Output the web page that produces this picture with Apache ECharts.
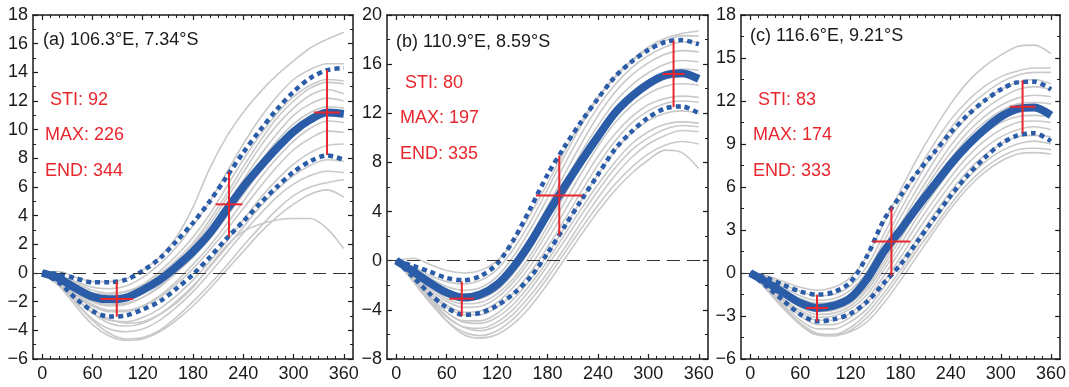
<!DOCTYPE html>
<html><head><meta charset="utf-8">
<script src="https://cdn.jsdelivr.net/npm/echarts@6/dist/echarts.min.js"></script>
<style>html,body{margin:0;padding:0;background:#fff}#c{width:1069px;height:387px}</style>
</head><body><div id="c"></div>
<script>
// ---------- data ----------
const days = [0,20,40,60,80,100,120,140,160,180,200,220,240,260,280,300,320,340,360];
const xTickLabels = [0,60,120,180,240,300,360];
const xMinorTicks = [0,10,20,30,40,50,60,70,80,90,100,110,120,130,140,150,160,170,180,190,200,210,220,230,240,250,260,270,280,290,300,310,320,330,340,350,360];

const panelTitles = ['(a) 106.3°E, 7.34°S','(b) 110.9°E, 8.59°S','(c) 116.6°E, 9.21°S'];
const stiValues = [92, 80, 83];
const maxValues = [226, 197, 174];
const endValues = [344, 335, 333];

const yMins = [-6, -8, -6];
const yMaxs = [18, 20, 18];
const ySteps = [2, 4, 3];

const meanA  = [0,-0.37,-1.07,-1.65,-1.84,-1.72,-1.19,-0.49,0.44,1.49,2.77,4.4,6.0,7.4,8.7,9.86,10.7,11.2,11.1];
const upperA = [0,-0.07,-0.37,-0.65,-0.64,-0.47,0.16,1.0,2.2,3.5,5.0,6.7,8.4,9.95,11.4,12.65,13.6,14.15,14.3];
const lowerA = [0,-0.67,-1.77,-2.65,-3.04,-2.97,-2.54,-1.99,-1.1,-0.1,1.1,2.4,3.6,4.85,6.0,7.05,7.8,8.2,7.9];

const meanB  = [0,-0.87,-1.8,-2.6,-3.0,-2.75,-1.95,-0.46,1.5,3.8,6.0,8.1,10.1,12.0,13.36,14.4,15.1,15.26,14.8];
const upperB = [0,-0.42,-0.9,-1.4,-1.6,-1.25,-0.25,1.74,4.3,7.0,9.25,11.3,13.2,14.95,16.2,17.15,17.8,17.96,17.6];
const lowerB = [0,-1.32,-2.7,-3.8,-4.4,-4.25,-3.65,-2.66,-1.3,0.6,2.75,4.9,7.0,9.05,10.5,11.65,12.4,12.56,12.0];

const meanC  = [0,-0.65,-1.39,-2.09,-2.44,-2.28,-1.74,-0.4,1.5,3.0,4.6,6.1,7.6,8.9,10.0,10.9,11.45,11.55,11.0];
const upperC = [0,-0.35,-0.84,-1.29,-1.51,-1.33,-0.64,1.2,3.7,5.4,7.0,8.4,9.8,11.0,12.0,12.8,13.3,13.35,12.8];
const lowerC = [0,-0.95,-1.94,-2.89,-3.37,-3.23,-2.84,-2.0,-0.7,0.6,2.2,3.8,5.4,6.8,8.0,9.0,9.6,9.75,9.2];

const grayA = [
 [0,0.1,-0.3,-0.6,-0.6,-0.4,0.2,1.1,2.5,4.6,7.3,9.5,11.2,12.6,13.8,14.8,15.7,16.3,16.8],
 [0,-0.2,-0.6,-1.0,-1.1,-0.9,-0.3,0.6,1.8,3.3,5.0,7.0,9.0,10.8,12.3,13.5,14.2,14.6,14.6],
 [0,-0.3,-0.9,-1.4,-1.5,-1.3,-0.8,0.1,1.2,2.5,4.1,6.0,7.9,9.6,11.1,12.3,13.1,13.5,13.4],
 [0,-0.2,-0.7,-1.2,-1.4,-1.3,-0.9,-0.1,0.9,2.1,3.7,5.5,7.4,9.2,10.8,12.0,12.9,13.3,13.2],
 [0,-0.4,-1.1,-1.7,-1.9,-1.8,-1.3,-0.5,0.6,1.9,3.4,5.2,7.0,8.8,10.3,11.5,12.4,12.8,12.5],
 [0,-0.3,-1.0,-1.6,-1.8,-1.7,-1.3,-0.6,0.4,1.6,3.0,4.7,6.5,8.2,9.7,11.0,11.8,12.2,12.0],
 [0,-0.5,-1.3,-2.0,-2.3,-2.2,-1.7,-0.9,0.1,1.3,2.7,4.3,6.0,7.7,9.2,10.4,11.2,11.6,11.5],
 [0,-0.4,-1.2,-1.9,-2.2,-2.1,-1.7,-1.0,0.0,1.1,2.4,3.9,5.5,7.1,8.6,9.8,10.6,11.0,11.0],
 [0,-0.6,-1.5,-2.3,-2.7,-2.7,-2.3,-1.6,-0.6,0.6,1.9,3.4,5.0,6.6,8.0,9.2,10.1,10.6,10.5],
 [0,-0.5,-1.4,-2.2,-2.6,-2.6,-2.3,-1.7,-0.8,0.3,1.6,3.0,4.5,6.0,7.4,8.6,9.4,9.9,9.8],
 [0,-0.7,-1.8,-2.8,-3.3,-3.4,-3.1,-2.5,-1.6,-0.5,0.8,2.2,3.7,5.2,6.5,7.6,8.4,8.9,9.0],
 [0,-0.6,-1.7,-2.8,-3.5,-3.7,-3.5,-2.9,-2.0,-0.9,0.4,1.8,3.2,4.6,5.8,6.8,7.5,7.9,7.8],
 [0,-0.8,-2.1,-3.2,-3.9,-4.1,-3.9,-3.3,-2.4,-1.3,0.0,1.4,2.8,4.1,5.3,6.2,6.8,7.1,7.0],
 [0,-0.7,-2.0,-3.3,-4.2,-4.6,-4.5,-4.0,-3.1,-2.0,-0.8,0.5,1.9,3.2,4.4,5.4,6.0,6.3,6.5],
 [0,-0.9,-2.3,-3.6,-4.4,-4.7,-4.6,-4.1,-3.3,-2.3,-1.1,0.2,1.5,2.8,3.9,4.8,5.5,5.8,5.3],
 [0,-0.5,-1.5,-2.5,-3.2,-3.5,-3.4,-2.9,-2.1,-1.0,0.5,1.9,2.9,3.4,3.7,3.8,3.8,3.1,1.7]
];
const grayB = [
 [0,0.2,-0.3,-0.8,-1.0,-0.8,0.0,1.6,3.8,6.3,8.9,11.3,13.3,15.0,16.3,17.4,18.1,18.5,18.7],
 [0,-0.5,-1.2,-1.7,-1.9,-1.6,-0.7,1.0,3.2,5.8,8.5,11.0,13.2,14.9,16.2,17.2,17.9,18.3,18.3],
 [0,-0.6,-1.4,-2.1,-2.4,-2.2,-1.3,0.4,2.6,5.1,7.8,10.3,12.5,14.3,15.7,16.7,17.4,17.8,17.8],
 [0,-0.8,-1.7,-2.5,-2.9,-2.7,-1.8,-0.2,1.9,4.4,7.0,9.5,11.8,13.7,15.1,16.1,16.8,17.1,17.0],
 [0,-0.7,-1.6,-2.4,-2.8,-2.7,-2.0,-0.6,1.4,3.8,6.3,8.8,11.0,12.9,14.3,15.3,16.0,16.3,16.2],
 [0,-0.9,-1.9,-2.8,-3.2,-3.1,-2.4,-1.0,1.0,3.4,5.9,8.3,10.5,12.3,13.7,14.7,15.3,15.6,15.5],
 [0,-1.0,-2.1,-3.1,-3.5,-3.4,-2.7,-1.4,0.5,2.8,5.3,7.7,9.9,11.8,13.2,14.2,14.8,15.0,14.9],
 [0,-1.1,-2.3,-3.3,-3.8,-3.7,-3.0,-1.7,0.1,2.3,4.7,7.1,9.3,11.2,12.6,13.6,14.2,14.4,14.3],
 [0,-1.2,-2.5,-3.6,-4.2,-4.1,-3.4,-2.1,-0.4,1.7,4.0,6.3,8.5,10.3,11.7,12.7,13.2,13.4,13.3],
 [0,-1.3,-2.7,-3.8,-4.4,-4.4,-3.8,-2.6,-0.9,1.1,3.3,5.6,7.8,9.7,11.2,12.2,12.8,13.0,12.9],
 [0,-1.5,-3.0,-4.2,-4.9,-4.9,-4.3,-3.1,-1.5,0.5,2.7,4.9,7.0,8.9,10.4,11.4,12.0,12.2,12.0],
 [0,-1.4,-2.9,-4.2,-5.0,-5.1,-4.6,-3.5,-1.9,0.0,2.1,4.2,6.2,8.0,9.5,10.5,11.1,11.3,11.2],
 [0,-1.6,-3.2,-4.6,-5.4,-5.5,-5.0,-3.9,-2.3,-0.4,1.6,3.7,5.7,7.5,9.0,10.0,10.7,11.0,10.9],
 [0,-1.5,-3.1,-4.5,-5.4,-5.7,-5.3,-4.3,-2.8,-1.0,1.0,3.1,5.1,6.9,8.4,9.5,10.2,10.6,10.5],
 [0,-1.7,-3.4,-4.9,-5.8,-6.1,-5.7,-4.7,-3.2,-1.4,0.6,2.6,4.5,6.2,7.6,8.7,9.4,9.7,9.5],
 [0,-1.6,-3.3,-4.9,-6.0,-6.3,-6.0,-5.1,-3.7,-1.9,0.1,2.1,4.0,5.7,7.1,8.2,9.0,8.8,7.5]
];
const grayC = [
 [0,-0.2,-0.6,-1.0,-1.2,-1.0,-0.3,1.2,3.5,5.8,8.0,10.0,11.8,13.3,14.4,15.2,15.8,15.9,15.3],
 [0,-0.3,-0.8,-1.3,-1.6,-1.5,-0.9,0.5,2.7,5.0,7.1,9.0,10.7,12.0,13.0,13.7,14.1,14.3,14.3],
 [0,-0.4,-1.0,-1.6,-1.9,-1.8,-1.2,0.1,2.2,4.4,6.5,8.4,10.1,11.5,12.5,13.3,13.8,14.0,14.0],
 [0,-0.5,-1.2,-1.8,-2.1,-2.0,-1.5,-0.2,1.8,3.9,5.9,7.8,9.5,10.9,12.0,12.8,13.3,13.5,13.2],
 [0,-0.6,-1.3,-2.0,-2.3,-2.2,-1.7,-0.5,1.4,3.4,5.4,7.2,8.9,10.3,11.4,12.2,12.8,13.0,12.8],
 [0,-0.6,-1.4,-2.1,-2.5,-2.4,-1.9,-0.7,1.1,3.1,5.0,6.8,8.4,9.8,10.9,11.7,12.2,12.4,12.3],
 [0,-0.7,-1.5,-2.3,-2.7,-2.6,-2.1,-1.0,0.8,2.7,4.6,6.4,8.0,9.4,10.5,11.3,11.8,11.9,11.8],
 [0,-0.7,-1.6,-2.4,-2.9,-2.8,-2.3,-1.2,0.5,2.4,4.3,6.0,7.6,9.0,10.1,10.9,11.3,11.4,11.3],
 [0,-0.8,-1.8,-2.6,-3.1,-3.0,-2.5,-1.5,0.2,2.0,3.9,5.6,7.2,8.6,9.7,10.5,10.9,11.0,10.9],
 [0,-0.9,-1.9,-2.8,-3.3,-3.3,-2.8,-1.8,-0.2,1.6,3.4,5.1,6.7,8.1,9.2,10.0,10.5,10.6,10.5],
 [0,-0.9,-2.0,-3.0,-3.6,-3.6,-3.1,-2.1,-0.6,1.1,2.9,4.6,6.2,7.6,8.7,9.5,10.0,10.2,10.0],
 [0,-1.0,-2.2,-3.3,-3.9,-3.9,-3.4,-2.5,-1.0,0.7,2.4,4.1,5.7,7.1,8.2,9.0,9.5,9.6,9.5],
 [0,-1.1,-2.4,-3.5,-4.2,-4.3,-3.8,-2.8,-1.4,0.2,1.9,3.6,5.2,6.6,7.7,8.5,9.0,9.2,9.0],
 [0,-1.0,-2.3,-3.6,-4.3,-4.4,-4.0,-3.1,-1.7,-0.1,1.6,3.2,4.8,6.2,7.3,8.1,8.6,8.7,8.6],
 [0,-1.2,-2.5,-3.6,-4.3,-4.3,-4.1,-3.4,-2.1,-0.5,1.2,2.9,4.5,5.9,7.0,7.8,8.3,8.4,8.3]
];

// red crosses: centre, half-widths (days) and half-heights (values) for STI, MAX, END
const crossX = [[89,223,340],[78,194,330],[80,169,326]];
const crossY = [[-1.81,4.79,11.2],[-3.09,5.31,15.2],[-2.44,2.2,11.6]];
const crossXHalf = [[19.5,16,15.5],[14.8,27.8,13],[13,22.5,15.3]];
const crossYHalf = [[1.24,2.27,2.97],[1.4,3.25,2.7],[0.93,2.4,1.83]];

const means = [meanA, meanB, meanC];
const uppers = [upperA, upperB, upperC];
const lowers = [lowerA, lowerB, lowerC];
const grays = [grayA, grayB, grayC];

// ---------- layout ----------
const FONT = '"Liberation Sans", Arial, Helvetica, sans-serif';
const gridLeft = [33, 387, 741];
const gridWidth = [320, 321, 320];
const BLUE = '#2a5ca8', RED = '#e8262d', GRAY = '#c9c9c9', INK = '#1a1a1a';
const fmtNum = v => (v < 0 ? '\u2212' + Math.abs(v) : String(v));

const grid = [], xAxis = [], yAxis = [], series = [], graphic = [];
for (let p = 0; p < 3; p++) {
  grid.push({left: gridLeft[p], width: gridWidth[p], top: 15, height: 344, containLabel: false});
  const lineOn = {show: true, onZero: false, lineStyle: {color: INK, width: 1.5}};
  const lineOff = {show: false, onZero: false};
  const xBase = {type: 'value', gridIndex: p, min: -11, max: 371, splitLine: {show: false}};
  // bottom major
  xAxis.push(Object.assign({}, xBase, {position: 'bottom', axisLine: lineOn,
    axisTick: {show: true, inside: true, length: 5, customValues: xTickLabels, lineStyle: {color: INK, width: 1.2}},
    axisLabel: {show: true, customValues: xTickLabels, formatter: fmtNum, margin: 6,
      fontFamily: FONT, fontSize: 18, color: INK}}));
  // bottom minor
  xAxis.push(Object.assign({}, xBase, {position: 'bottom', axisLine: lineOff,
    axisTick: {show: true, inside: true, length: 3, customValues: xMinorTicks, lineStyle: {color: INK, width: 1}},
    axisLabel: {show: false}}));
  // top major
  xAxis.push(Object.assign({}, xBase, {position: 'top', axisLine: lineOn,
    axisTick: {show: true, inside: true, length: 5, customValues: xTickLabels, lineStyle: {color: INK, width: 1.2}},
    axisLabel: {show: false}}));
  // top minor
  xAxis.push(Object.assign({}, xBase, {position: 'top', axisLine: lineOff,
    axisTick: {show: true, inside: true, length: 3, customValues: xMinorTicks, lineStyle: {color: INK, width: 1}},
    axisLabel: {show: false}}));

  const yBase = {type: 'value', gridIndex: p, min: yMins[p], max: yMaxs[p], interval: ySteps[p],
    splitLine: {show: false}, axisLine: lineOn,
    axisTick: {show: true, inside: true, length: 5, lineStyle: {color: INK, width: 1.2}},
    minorTick: {show: true, splitNumber: 2, length: 3, lineStyle: {color: INK, width: 1}}};
  yAxis.push(Object.assign({}, yBase, {position: 'left',
    axisLabel: {show: true, formatter: fmtNum, margin: 5, fontFamily: FONT, fontSize: 18, color: INK}}));
  yAxis.push(Object.assign({}, yBase, {position: 'right', axisLabel: {show: false}}));

  const xi = p * 4, yi = p * 2;
  const toPts = arr => days.map((d, i) => [d, arr[i]]);

  grays[p].forEach((g, k) => {
    const s = {type: 'line', xAxisIndex: xi, yAxisIndex: yi, data: toPts(g), symbol: 'none',
      smooth: 0.3, silent: true, lineStyle: {color: GRAY, width: 1.6}, z: 2};
    if (k === grays[p].length - 1) {
      s.markLine = {silent: true, symbol: 'none', label: {show: false},
        lineStyle: {color: '#333', type: [13, 7], width: 1.2}, data: [{yAxis: 0}]};
    }
    series.push(s);
  });
  [uppers[p], lowers[p]].forEach(arr => series.push({type: 'line', xAxisIndex: xi, yAxisIndex: yi,
    data: toPts(arr), symbol: 'none', smooth: 0.3, silent: true, z: 4,
    lineStyle: {color: BLUE, width: 4.5, type: [5, 4]}}));
  series.push({type: 'line', xAxisIndex: xi, yAxisIndex: yi, data: toPts(means[p]), symbol: 'none',
    smooth: 0.3, silent: true, z: 5, lineStyle: {color: BLUE, width: 8}});

  for (let c = 0; c < 3; c++) {
    const cx = crossX[p][c], cy = crossY[p][c], hx = crossXHalf[p][c], hy = crossYHalf[p][c];
    series.push({type: 'line', xAxisIndex: xi, yAxisIndex: yi, data: [[cx - hx, cy], [cx + hx, cy]],
      symbol: 'none', silent: true, z: 6, lineStyle: {color: RED, width: 2}});
    series.push({type: 'line', xAxisIndex: xi, yAxisIndex: yi, data: [[cx, cy - hy], [cx, cy + hy]],
      symbol: 'none', silent: true, z: 6, lineStyle: {color: RED, width: 2}});
  }
}

// texts
const titlePos = [[43, 40], [396, 42], [750, 36]];
const stiPos = [[50, 100], [405, 83], [758, 100]];
const maxPos = [[45, 135], [400, 118], [753, 135]];
const endPos = [[45, 171], [400, 154], [753, 171]];
for (let p = 0; p < 3; p++) {
  const mk = (txt, pos, color) => ({type: 'text', x: pos[0], y: pos[1], z: 100,
    style: {text: txt, fill: color, font: '18px ' + FONT, verticalAlign: 'middle', align: 'left'}});
  graphic.push(mk(panelTitles[p], titlePos[p], INK));
  graphic.push(mk('STI: ' + stiValues[p], stiPos[p], RED));
  graphic.push(mk('MAX: ' + maxValues[p], maxPos[p], RED));
  graphic.push(mk('END: ' + endValues[p], endPos[p], RED));
}

const chart = echarts.init(document.getElementById('c'), null, {renderer: 'canvas'});
chart.setOption({animation: false, backgroundColor: '#fff', grid, xAxis, yAxis, series, graphic});
</script></body></html>
